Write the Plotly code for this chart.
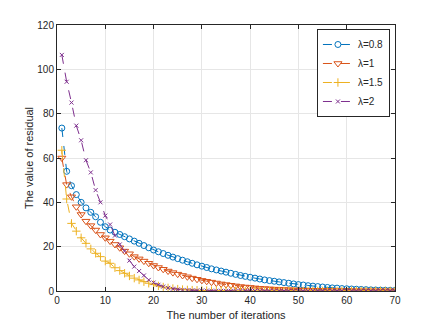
import plotly.graph_objects as go

iterations = list(range(1, 71))

res_08 = [73.5, 54, 47.5, 43.5, 40, 37.5, 35.5, 33.5, 31, 29,
          27.5, 26.5, 25.5, 24.5, 23.5, 22.5, 21.5, 20.5, 19.5, 18.5,
          17.7, 16.9, 16.1, 15.3, 14.6, 13.9, 13.2, 12.5, 11.8, 11.2,
          10.6, 10.0, 9.5, 9.0, 8.5, 8.0, 7.5, 7.0, 6.6, 6.2,
          5.8, 5.4, 5.0, 4.7, 4.4, 4.1, 3.8, 3.5, 3.2, 2.9,
          2.7, 2.4, 2.2, 2.0, 1.8, 1.6, 1.4, 1.3, 1.1, 1.0,
          0.9, 0.8, 0.7, 0.6, 0.5, 0.45, 0.4, 0.35, 0.3, 0.25]

res_1 = [60, 48, 42.5, 38, 34.5, 31.5, 29.5, 27.5, 25.5, 24,
         22.5, 21, 19.5, 18, 16.8, 15.5, 14.5, 13.5, 12.5, 11.5,
         10.6, 9.8, 9.0, 8.3, 7.6, 7.0, 6.4, 5.8, 5.3, 4.8,
         4.4, 4.0, 3.6, 3.2, 2.9, 2.6, 2.3, 2.0, 1.8, 1.6,
         1.4, 1.2, 1.1, 0.95, 0.85, 0.75, 0.65, 0.58, 0.5, 0.45,
         0.4, 0.35, 0.3, 0.27, 0.24, 0.21, 0.19, 0.17, 0.15, 0.13,
         0.12, 0.11, 0.1, 0.09, 0.08, 0.07, 0.06, 0.05, 0.05, 0.04]

res_15 = [63.5, 41.5, 30.5, 27, 24, 21.5, 19, 17, 15.5, 13.5,
          12.5, 10.5, 9.2, 8.0, 6.8, 5.8, 5.0, 4.2, 3.5, 2.9,
          2.3, 1.8, 1.4, 1.1, 0.85, 0.65, 0.5, 0.4, 0.32, 0.25,
          0.2, 0.16, 0.13, 0.1, 0.08, 0.06, 0.05, 0.04, 0.03, 0.03,
          0.02, 0.02, 0.02, 0.02, 0.02, 0.02, 0.02, 0.02, 0.02, 0.02,
          0.02, 0.02, 0.02, 0.02, 0.02, 0.02, 0.02, 0.02, 0.02, 0.02,
          0.02, 0.02, 0.02, 0.02, 0.02, 0.02, 0.02, 0.02, 0.02, 0.02]

res_2 = [106.5, 94.4, 85, 74.6, 68, 59, 53.5, 45.5, 40, 34,
         30, 25, 21, 18, 13.7, 11, 9, 7, 5, 3.8,
         2.8, 2.0, 1.4, 1.0, 0.7, 0.5, 0.4, 0.3, 0.22, 0.16,
         0.12, 0.1, 0.08, 0.06, 0.05, 0.04, 0.03, 0.03, 0.02, 0.02,
         0.02, 0.02, 0.02, 0.02, 0.02, 0.02, 0.02, 0.02, 0.02, 0.02,
         0.02, 0.02, 0.02, 0.02, 0.02, 0.02, 0.02, 0.02, 0.02, 0.02,
         0.02, 0.02, 0.02, 0.02, 0.02, 0.02, 0.02, 0.02, 0.02, 0.02]

series = [
    ("λ=0.8", res_08, "#0072BD", "circle-open", 6),
    ("λ=1", res_1, "#D95319", "triangle-down-open", 7),
    ("λ=1.5", res_15, "#EDB120", "cross-thin-open", 6),
    ("λ=2", res_2, "#7E2F8E", "x-thin-open", 4),
]

fig = go.Figure()
for name, vals, color, symbol, size in series:
    fig.add_trace(
        go.Scatter(
            x=iterations,
            y=vals,
            name=name,
            mode="lines+markers",
            line={"color": color, "width": 1, "dash": "dash"},
            marker={"symbol": symbol, "size": size, "color": color,
                    "line": {"color": color, "width": 1}},
        )
    )

axis_style = dict(
    showline=True,
    linecolor="#262626",
    linewidth=1,
    mirror="ticks",
    ticks="inside",
    ticklen=4,
    tickcolor="#262626",
    showgrid=True,
    gridcolor="#e6e6e6",
    gridwidth=1,
    zeroline=False,
    automargin=False,
    tickfont={"size": 10, "color": "#262626"},
)

fig.update_xaxes(range=[0, 70], dtick=10,
                 title={"text": "The number of iterations", "standoff": 6,
                        "font": {"size": 11, "color": "#262626"}},
                 **axis_style)
fig.update_yaxes(range=[0, 120], dtick=20,
                 title={"text": "The value of residual", "standoff": 1,
                        "font": {"size": 11, "color": "#262626"}},
                 **axis_style)

fig.update_layout(
    width=436,
    height=327,
    margin={"l": 49, "r": 49, "t": 17, "b": 44},
    plot_bgcolor="white",
    paper_bgcolor="white",
    font={"family": "Liberation Sans, Arial, sans-serif", "color": "#262626"},
    legend={
        "x": 0.985, "y": 0.985, "xanchor": "right", "yanchor": "top",
        "bgcolor": "white", "bordercolor": "#262626", "borderwidth": 1,
        "font": {"size": 10}, "itemwidth": 30, "tracegroupgap": 0,
        "itemsizing": "trace",
    },
)

fig.write_html("out.html")
